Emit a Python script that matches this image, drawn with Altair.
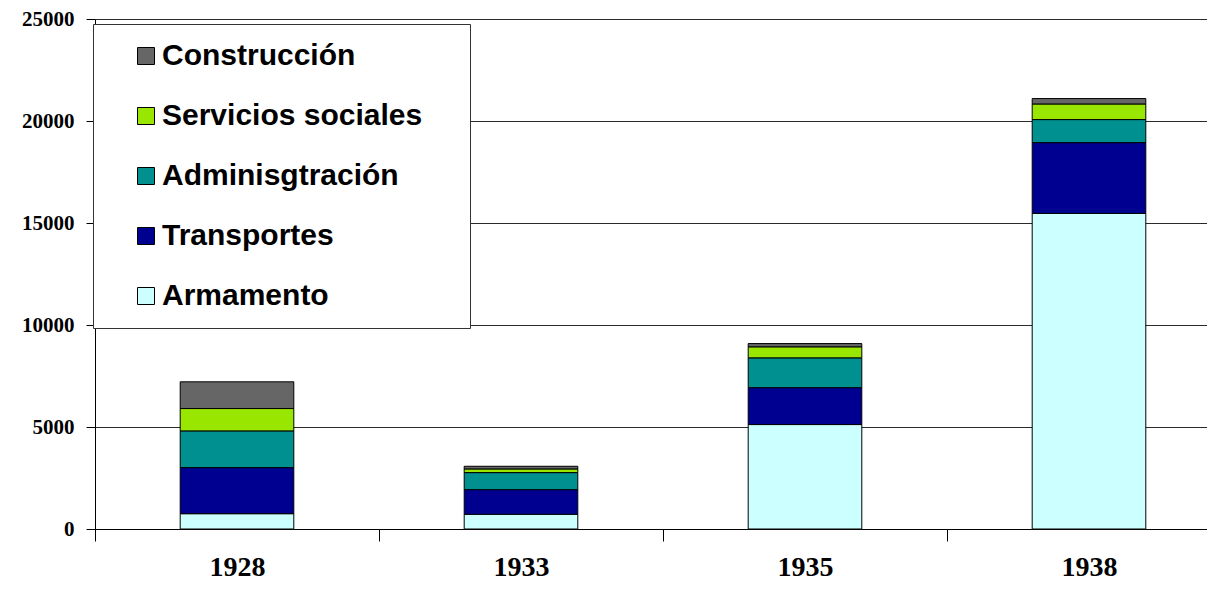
import altair as alt
import pandas as pd

years = ["1928", "1933", "1935", "1938"]
categories = ["Construcción", "Servicios sociales", "Adminisgtración", "Transportes", "Armamento"]
colors = ["#666666", "#99E600", "#009090", "#000090", "#CCFFFF"]

armamento = [750, 720, 5120, 15470]
transportes = [2260, 1210, 1810, 3470]
administracion = [1800, 835, 1460, 1130]
servicios = [1095, 180, 540, 765]
construccion = [1310, 130, 160, 265]

y_ticks = [0, 5000, 10000, 15000, 20000, 25000]

series = {
    "Armamento": armamento,
    "Transportes": transportes,
    "Adminisgtración": administracion,
    "Servicios sociales": servicios,
    "Construcción": construccion,
}
stack_order = ["Armamento", "Transportes", "Adminisgtración", "Servicios sociales", "Construcción"]

rows = []
for name, vals in series.items():
    for yr, v in zip(years, vals):
        rows.append({"year": yr, "cat": name, "value": v, "ord": stack_order.index(name)})
df = pd.DataFrame(rows)

chart = alt.Chart(df).mark_bar(
    stroke="black", strokeWidth=1, width=alt.RelativeBandSize(0.4)
).encode(
    x=alt.X(
        "year:N",
        sort=years,
        scale=alt.Scale(range=[0, 1136], paddingInner=0, paddingOuter=0),
        axis=alt.Axis(
            title=None,
            labelAngle=0,
            tickBand="extent",
            tickSize=12,
            tickColor="black",
            domainColor="black",
            labelFont="Liberation Serif",
            labelFontWeight="bold",
            labelFontSize=28,
            labelColor="black",
            labelBaseline="alphabetic",
            labelPadding=34,
            grid=False,
        ),
    ),
    y=alt.Y(
        "value:Q",
        stack="zero",
        scale=alt.Scale(domain=[0, 25000], nice=False),
        axis=alt.Axis(
            title=None,
            values=y_ticks,
            format="d",
            tickSize=9,
            tickColor="black",
            domainColor="black",
            labelFont="Liberation Serif",
            labelFontWeight="bold",
            labelFontSize=21,
            labelColor="black",
            labelPadding=12,
            grid=True,
            gridColor="#2a2a2a",
            gridWidth=1,
        ),
    ),
    color=alt.Color(
        "cat:N",
        scale=alt.Scale(domain=categories, range=colors),
        legend=alt.Legend(
            title=" ",
            titleOrient="right",
            titleFontSize=30,
            titlePadding=31,
            orient="none",
            legendX=-2,
            legendY=5,
            fillColor="white",
            strokeColor="#333333",
            padding=17,
            symbolType="square",
            symbolSize=289,
            symbolStrokeColor="black",
            symbolStrokeWidth=1,
            symbolOpacity=1,
            symbolOffset=21,
            labelOffset=1,
            labelFont="Liberation Sans",
            labelFontWeight="bold",
            labelFontSize=30,
            labelColor="black",
            labelLimit=500,
            rowPadding=30,
        ),
    ),
    order=alt.Order("ord:Q", sort="ascending"),
).properties(
    width=1112,
    height=510,
    autosize=alt.AutoSizeParams(type="none"),
    padding={"left": 87, "top": 11, "right": 0, "bottom": 53},
).configure_view(stroke=None).configure(background="white")

chart.save("out.html", embed_options={"renderer": "svg", "actions": False})
